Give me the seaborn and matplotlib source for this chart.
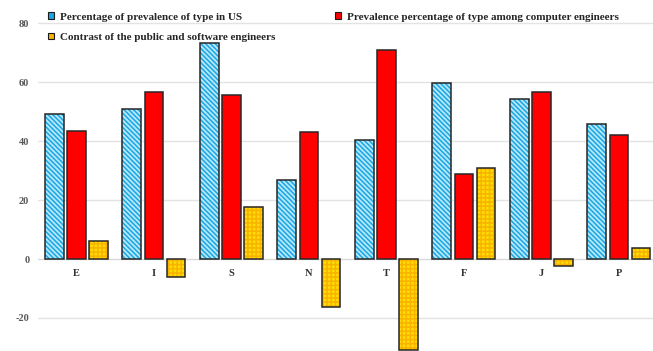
import matplotlib
matplotlib.use("Agg")
import matplotlib.pyplot as plt
import matplotlib.patches as mpatches
import pandas as pd
import seaborn as sns

types = ["E", "I", "S", "N", "T", "F", "J", "P"]
us_pct = [49.2, 50.8, 73.2, 26.8, 40.3, 59.9, 54.2, 45.8]
eng_pct = [43.4, 56.8, 55.6, 43.0, 71.0, 29.0, 56.7, 42.2]
contrast = [6.1, -6.0, 17.8, -16.3, -30.8, 30.9, -2.4, 3.8]

series = [
    "Percentage of prevalence of type in US",
    "Prevalence percentage of type among computer engineers",
    "Contrast of the public and software engineers",
]
yticks = [-20, 0, 20, 40, 60, 80]

df = pd.DataFrame(
    {
        "type": types * 3,
        "value": us_pct + eng_pct + contrast,
        "series": [series[0]] * 8 + [series[1]] * 8 + [series[2]] * 8,
    }
)

sns.set_style("white")
plt.rcParams["font.family"] = ["Liberation Serif", "DejaVu Serif"]
plt.rcParams["font.weight"] = "bold"
plt.rcParams["hatch.linewidth"] = 1.1

# face colour, hatch colour, hatch pattern
styles = [
    ("#B5E8FB", "#1AA6E2", "\\\\\\\\\\\\\\"),
    ("#FF0000", None, ""),
    ("#FFDD00", "#F8B200", "++++"),
]

fig = plt.figure(figsize=(6.53, 3.51), dpi=100)
ax = fig.add_axes([0.0577, 0.0, 0.9495, 1.0])

sns.barplot(
    data=df, x="type", y="value", hue="series", hue_order=series,
    palette=[s[0] for s in styles], width=0.86, gap=0.16,
    errorbar=None, legend=False, ax=ax,
)

for cont, (fc, hc, hatch) in zip(ax.containers, styles):
    for bar in cont:
        bar.set_facecolor(fc)
        if hatch:
            bar.set_hatch(hatch)
            bar.set_edgecolor(hc)
        bar.set_linewidth(0)
        bar.set_zorder(3)
        ax.add_patch(mpatches.Rectangle(
            bar.get_xy(), bar.get_width(), bar.get_height(),
            fill=False, ec="#262626", lw=1.1, zorder=4))

ax.set_xlim(-0.5, 7.5)
ax.set_ylim(-31.2, 87.9)
ax.set_yticks(yticks)
ax.set_yticklabels([str(v) for v in yticks])
ax.set_xlabel("")
ax.set_ylabel("")
ax.grid(axis="y", color="#E3E3E3", lw=1.0, zorder=0)
ax.set_axisbelow(True)

for side in ["top", "right", "left"]:
    ax.spines[side].set_visible(False)
ax.spines["bottom"].set_position(("data", 0))
ax.spines["bottom"].set_color("#D9D9D9")
ax.spines["bottom"].set_zorder(2)

ax.set_xticks(range(len(types)))
ax.set_xticks([i - 0.5 for i in range(len(types) + 1)], minor=True)
ax.tick_params(axis="x", which="major", length=0, pad=7, labelsize=7.5,
               labelcolor="#333333")
ax.tick_params(axis="x", which="minor", length=3, color="#D9D9D9")
ax.tick_params(axis="y", length=0, pad=6, labelsize=7.5, labelcolor="#595959")

handles = []
for (fc, hc, hatch), lab in zip(styles, series):
    handles.append(mpatches.Patch(facecolor=fc if not hc else hc, edgecolor="#1a1a1a",
                                  lw=0.8, label=lab))
order = [0, 2, 1]
fig.legend(
    [handles[i] for i in order], [series[i] for i in order],
    ncol=2, loc="upper left", bbox_to_anchor=(0.074, 0.965),
    frameon=False, fontsize=8, handlelength=0.55, handleheight=0.55,
    handletextpad=0.5, labelspacing=1.0, columnspacing=5.4, borderpad=0,
    borderaxespad=0,
)

plt.savefig("out.png", dpi=100)
